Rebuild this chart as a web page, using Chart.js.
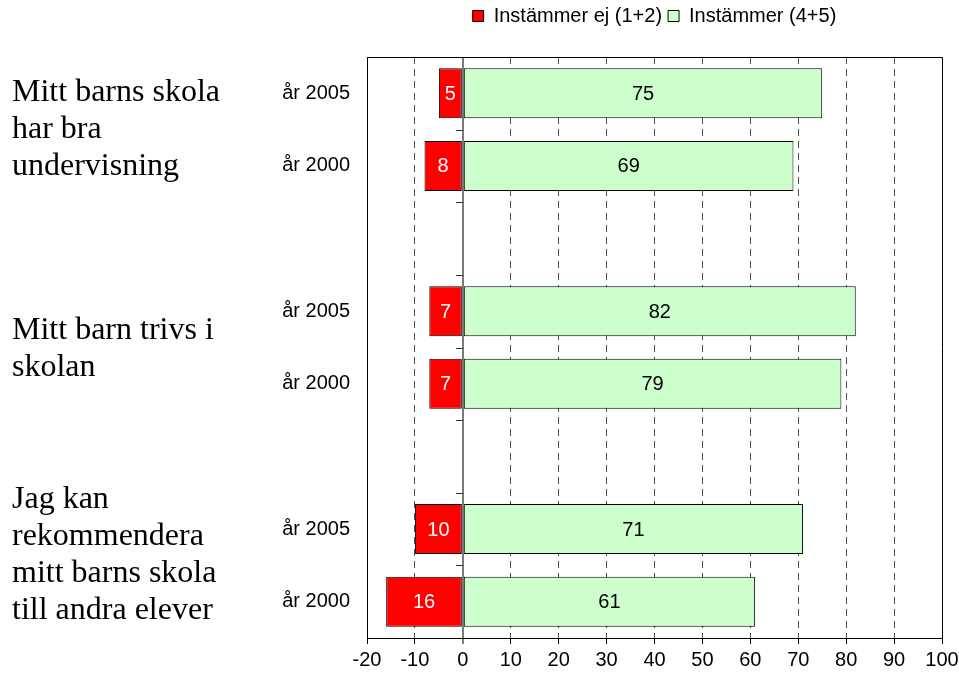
<!DOCTYPE html>
<html>
<head>
<meta charset="utf-8">
<script src="https://cdn.jsdelivr.net/npm/chart.js@4.4.0/dist/chart.umd.min.js"></script>
<style>
  html, body { margin: 0; padding: 0; background: #fff; }
</style>
</head>
<body>
<canvas id="surveyChart" width="959" height="675"></canvas>
<script>
const categories = ['år 2005', 'år 2000', '', 'år 2005', 'år 2000', '', 'år 2005', 'år 2000'];
const disagree = [-5, -8, null, -7, -7, null, -10, -16];
const agree = [75, 69, null, 82, 79, null, 71, 61];
const xTicks = [-20, -10, 0, 10, 20, 30, 40, 50, 60, 70, 80, 90, 100];
const seriesNames = ['Instämmer ej (1+2)', 'Instämmer (4+5)'];
const groupLabels = [
    ['Mitt barns skola', 'har bra', 'undervisning'],
    ['Mitt barn trivs i', 'skolan'],
    ['Jag kan', 'rekommendera', 'mitt barns skola', 'till andra elever']
];
const groupRows = [[0, 1], [3, 4], [6, 7]];

const sansFont = '"Liberation Sans", Arial, sans-serif';

// numbers inside the bars
const barLabels = {
    id: 'barLabels',
    afterDatasetsDraw(chart) {
        const ctx = chart.ctx;
        ctx.save();
        ctx.font = '20px ' + sansFont;
        ctx.textAlign = 'center';
        ctx.textBaseline = 'middle';
        chart.data.datasets.forEach((ds, i) => {
            const meta = chart.getDatasetMeta(i);
            meta.data.forEach((bar, j) => {
                const v = ds.data[j];
                if (v == null) return;
                ctx.fillStyle = i === 0 ? '#fff' : '#000';
                ctx.fillText(String(Math.abs(v)), (bar.x + bar.base) / 2, bar.y + 1);
            });
        });
        ctx.restore();
    }
};

// top/right frame and the small ticks on the zero line
const frame = {
    id: 'frame',
    beforeDatasetsDraw(chart) {
        const { ctx, chartArea: a, scales: { x, y } } = chart;
        ctx.save();
        ctx.lineWidth = 1;
        ctx.strokeStyle = '#000';
        ctx.beginPath();
        ctx.moveTo(a.left, Math.round(a.top) + 0.5);
        ctx.lineTo(Math.round(a.right) + 0.5, Math.round(a.top) + 0.5);
        ctx.lineTo(Math.round(a.right) + 0.5, a.bottom);
        ctx.stroke();

        const x0 = Math.round(x.getPixelForValue(0));
        ctx.strokeStyle = '#333';
        ctx.beginPath();
        for (let i = 0; i < categories.length - 1; i++) {
            const yb = Math.round((y.getPixelForValue(i) + y.getPixelForValue(i + 1)) / 2) + 0.5;
            ctx.moveTo(x0 - 7, yb);
            ctx.lineTo(x0, yb);
        }
        ctx.stroke();
        ctx.restore();
    }
};

// question texts on the far left
const groupText = {
    id: 'groupText',
    afterDraw(chart) {
        const { ctx, scales: { y } } = chart;
        const nudge = [0, 2, -10];
        const lineH = 37;
        ctx.save();
        ctx.font = '32px "Liberation Serif", "Times New Roman", serif';
        ctx.fillStyle = '#000';
        ctx.textAlign = 'left';
        ctx.textBaseline = 'middle';
        groupLabels.forEach((lines, g) => {
            const [r1, r2] = groupRows[g];
            const mid = (y.getPixelForValue(r1) + y.getPixelForValue(r2)) / 2 + nudge[g];
            lines.forEach((t, k) => {
                ctx.fillText(t, 12, mid + (k - (lines.length - 1) / 2) * lineH);
            });
        });
        ctx.restore();
    }
};

const isEdge = v => v === xTicks[0] || v === xTicks[xTicks.length - 1];

new Chart(document.getElementById('surveyChart'), {
    type: 'bar',
    data: {
        labels: categories,
        datasets: [{
            label: seriesNames[0],
            data: disagree,
            backgroundColor: '#ff0000',
            borderColor: '#000',
            borderWidth: 1,
            borderSkipped: false
        }, {
            label: seriesNames[1],
            data: agree,
            backgroundColor: '#ccffcc',
            borderColor: '#000',
            borderWidth: 1,
            borderSkipped: false
        }]
    },
    options: {
        indexAxis: 'y',
        responsive: false,
        animation: false,
        datasets: {
            bar: { barPercentage: 0.69, categoryPercentage: 1 }
        },
        layout: { padding: 0 },
        scales: {
            x: {
                type: 'linear',
                stacked: true,
                min: -20,
                max: 100,
                afterBuildTicks: s => { s.ticks = xTicks.map(v => ({ value: v })); },
                grid: {
                    color: c => (c.tick && isEdge(c.tick.value)) ? 'rgba(0,0,0,0)'
                        : (c.tick && c.tick.value === 0 ? '#7a7a7a' : '#555'),
                    lineWidth: c => (c.tick && c.tick.value === 0) ? 2 : 1,
                    tickColor: '#000',
                    tickLength: 6,
                    tickWidth: 1,
                    tickBorderDash: []
                },
                border: {
                    display: true,
                    color: '#000',
                    width: 1,
                    dash: c => (c.tick && c.tick.value !== 0) ? [7, 5] : []
                },
                ticks: {
                    color: '#000',
                    font: { family: sansFont, size: 20 },
                    padding: 4,
                    autoSkip: false,
                    maxRotation: 0
                },
                afterFit: s => {
                    s.height = 37;
                    s.paddingRight = 17;
                }
            },
            topPad: {
                type: 'linear',
                position: 'top',
                display: true,
                grid: { display: false, drawTicks: false },
                border: { display: false },
                ticks: { display: false },
                afterFit: s => { s.height = 21; }
            },
            y: {
                stacked: true,
                grid: { display: false, drawTicks: false },
                border: { display: true, color: '#000', width: 1 },
                ticks: {
                    color: '#000',
                    font: { family: sansFont, size: 20 },
                    padding: 17
                },
                afterFit: s => { s.width = 367; }
            }
        },
        plugins: {
            legend: {
                position: 'top',
                fullSize: false,
                labels: {
                    boxWidth: 11,
                    boxHeight: 11,
                    padding: 6,
                    color: '#000',
                    font: { family: sansFont, size: 20 }
                }
            },
            tooltip: { enabled: false }
        }
    },
    plugins: [frame, barLabels, groupText]
});
</script>
</body>
</html>
